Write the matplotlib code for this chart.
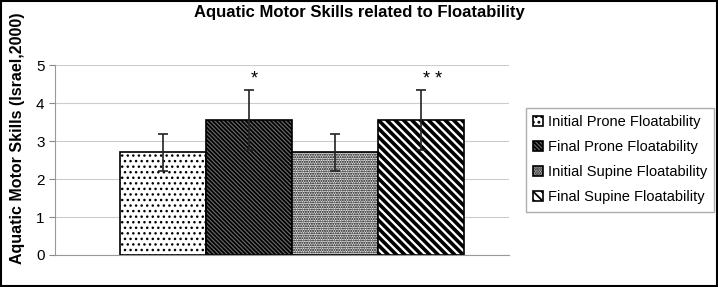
import numpy as np
import matplotlib.pyplot as plt
from matplotlib.patches import Rectangle

labels = ["Initial Prone Floatability", "Final Prone Floatability",
          "Initial Supine Floatability", "Final Supine Floatability"]
means = [2.7, 3.55, 2.7, 3.55]
errors = [0.48, 0.78, 0.48, 0.78]
marks = ["", "*", "", "* *"]

hatches = ["...", "\\" * 8, "." * 7, "\\" * 4]
faces = ["white", "#6e6e6e", "#e8e8e8", "white"]

plt.rcParams['font.family'] = 'Liberation Sans'
plt.rcParams['hatch.linewidth'] = 1.3

fig = plt.figure(figsize=(7.18, 2.87), dpi=100)
ax = fig.add_axes([0.0766, 0.1115, 0.633, 0.662])

x = np.arange(4)
bars = []
for i in range(4):
    b = ax.bar(x[i], means[i], width=1.0, color=faces[i], edgecolor="black",
               hatch=hatches[i], linewidth=1.2, label=labels[i], zorder=2)
    bars.append(b)
# wider stripes on the last bar
bars[3][0].set_hatch_linewidth(2.6)
bars[0][0].set_hatch_linewidth(1.0)
bars[2][0].set_hatch_linewidth(1.0)
ax.errorbar(x, means, yerr=errors, fmt="none", ecolor="#222222",
            elinewidth=1.2, capsize=3.6, capthick=1.2, zorder=3)
offs = [0, 0.06, 0, 0.14]
for i in range(4):
    if marks[i]:
        ax.text(x[i] + offs[i], 4.62, marks[i], ha="center", va="center", fontsize=13)

ax.set_xlim(-1.25, 4.03)
ax.set_ylim(0, 5)
ax.set_yticks(range(6))
ax.set_xticks([])
ax.tick_params(axis="y", labelsize=11, length=4, color="#888888")
ax.yaxis.grid(True, color="#cccccc", linewidth=0.8, zorder=0)
for s in ax.spines.values():
    s.set_color("#999999")
ax.spines["right"].set_visible(False)
ax.spines["top"].set_visible(False)

fig.text(0.024, 0.52, "Aquatic Motor Skills (Israel,2000)", rotation=90, ha="center",
         va="center", fontsize=11.5, fontweight="bold")
fig.text(0.5, 0.955, "Aquatic Motor Skills related to Floatability", ha="center",
         va="center", fontsize=12, fontweight="bold")

leg = fig.legend(loc="center left", bbox_to_anchor=(0.722, 0.443), fontsize=10.5,
                 frameon=True, fancybox=False, edgecolor="#999999",
                 handlelength=0.7, handleheight=0.7, handletextpad=0.3,
                 borderpad=0.5, labelspacing=0.75)

fig.patches.append(Rectangle((0.002, 0.004), 0.996, 0.992, transform=fig.transFigure,
                             fill=False, edgecolor="black", linewidth=1.5))

fig.savefig("out.png", dpi=100)
